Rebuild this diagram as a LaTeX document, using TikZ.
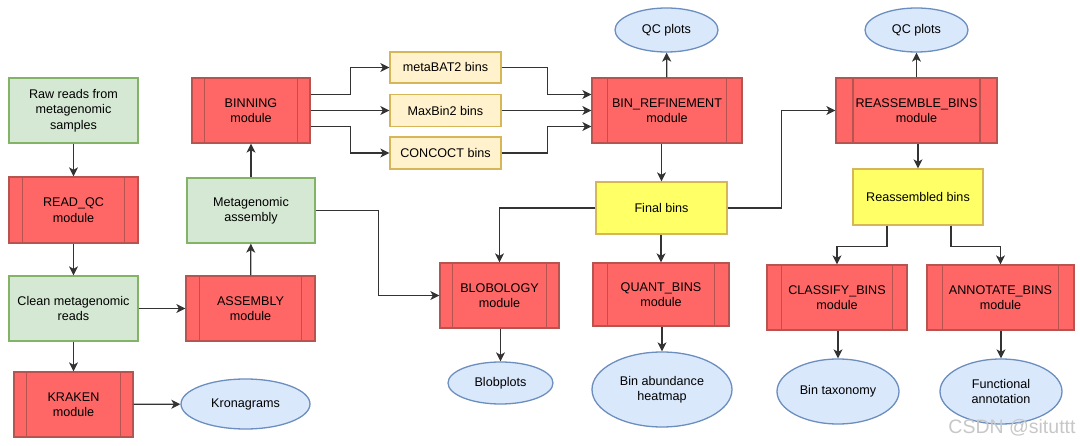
\documentclass[tikz,border=0pt]{standalone}
\usepackage{fontspec}
\setmainfont{Liberation Sans}
\usetikzlibrary{shapes.geometric,arrows.meta,calc}
\definecolor{greenfill}{RGB}{213,232,212}
\definecolor{greenline}{RGB}{130,179,102}
\definecolor{redfill}{RGB}{255,102,102}
\definecolor{redline}{RGB}{184,84,80}
\definecolor{binfill}{RGB}{255,242,204}
\definecolor{binline}{RGB}{214,182,86}
\definecolor{yellowfill}{RGB}{255,255,102}
\definecolor{bluefill}{RGB}{218,232,252}
\definecolor{blueline}{RGB}{108,142,191}
\definecolor{edgecol}{RGB}{51,51,51}
\tikzset{
  box/.style={draw, line width=1.3pt, align=center, inner sep=0pt,
    font=\fontsize{12.6}{15.5}\selectfont},
  data/.style={box, fill=greenfill, draw=greenline},
  binbox/.style={box, fill=binfill, draw=binline},
  result/.style={box, fill=yellowfill, draw=binline},
  plot/.style={box, ellipse, fill=bluefill, draw=blueline},
  module/.style={box, fill=redfill, draw=redline, path picture={
      \draw[redline, line width=1.3pt]
        ($(path picture bounding box.north west)!0.105!(path picture bounding box.north east)$) --
        ($(path picture bounding box.south west)!0.105!(path picture bounding box.south east)$);
      \draw[redline, line width=1.3pt]
        ($(path picture bounding box.north west)!0.895!(path picture bounding box.north east)$) --
        ($(path picture bounding box.south west)!0.895!(path picture bounding box.south east)$);
    }},
  arr/.style={draw=edgecol, line width=1.2pt, -{Stealth[length=9pt,width=9pt,inset=2.5pt]}}
}
\begin{document}
\begin{tikzpicture}[x=1pt, y=-1pt]
  \useasboundingbox (0,0) rectangle (1080,446);
  % reads column
  \node[data, minimum width=129pt, minimum height=65pt] (raw) at (73.5,110.5) {Raw reads from\\metagenomic\\samples};
  \node[module, minimum width=129pt, minimum height=66pt] (readqc) at (73.5,210) {READ\_QC\\module};
  \node[data, minimum width=129pt, minimum height=65pt] (clean) at (73.5,308.5) {Clean metagenomic\\reads};
  \node[module, minimum width=119pt, minimum height=65pt] (kraken) at (73.5,404.5) {KRAKEN\\module};
  \node[plot, minimum width=129pt, minimum height=50pt] (krona) at (245.5,404) {Kronagrams};
  % assembly column
  \node[module, minimum width=129pt, minimum height=65pt] (assembly) at (250.5,308.5) {ASSEMBLY\\module};
  \node[data, minimum width=128pt, minimum height=65pt] (metaasm) at (251,210.5) {Metagenomic\\assembly};
  \node[module, minimum width=118pt, minimum height=65pt] (binning) at (251,110.5) {BINNING\\module};
  % bins
  \node[binbox, minimum width=111pt, minimum height=31pt] (metabat) at (445.5,67.5) {metaBAT2 bins};
  \node[binbox, minimum width=111pt, minimum height=32pt] (maxbin) at (445.5,110.5) {MaxBin2 bins};
  \node[binbox, minimum width=111pt, minimum height=32pt] (concoct) at (445.5,153) {CONCOCT bins};
  % refinement
  \node[module, minimum width=150pt, minimum height=65pt] (binref) at (667,110.5) {BIN\_REFINEMENT\\module};
  \node[plot, minimum width=103pt, minimum height=44pt] (qcone) at (666.5,30) {QC plots};
  \node[result, minimum width=131pt, minimum height=52pt] (final) at (661.5,208) {Final bins};
  \node[module, minimum width=119pt, minimum height=65pt] (blobology) at (499.5,295.5) {BLOBOLOGY\\module};
  \node[module, minimum width=136pt, minimum height=63pt] (quant) at (661,294.5) {QUANT\_BINS\\module};
  \node[plot, minimum width=105pt, minimum height=42pt] (blobplots) at (500.5,383) {Blobplots};
  \node[plot, minimum width=140pt, minimum height=75pt] (abundance) at (662,389.5) {Bin abundance\\heatmap};
  % reassembly
  \node[module, minimum width=161pt, minimum height=65pt] (reasm) at (916.5,110.5) {REASSEMBLE\_BINS\\module};
  \node[plot, minimum width=103pt, minimum height=44pt] (qctwo) at (916.5,30) {QC plots};
  \node[result, minimum width=130pt, minimum height=56pt] (reasmbins) at (918,197) {Reassembled bins};
  \node[module, minimum width=140pt, minimum height=65pt] (classify) at (837,297.5) {CLASSIFY\_BINS\\module};
  \node[module, minimum width=147pt, minimum height=65pt] (annotate) at (1000.5,297.5) {ANNOTATE\_BINS\\module};
  \node[plot, minimum width=122pt, minimum height=65pt] (taxonomy) at (838,391.5) {Bin taxonomy};
  \node[plot, minimum width=122pt, minimum height=65pt] (functional) at (1001,391.5) {Functional\\annotation};
  % watermark
  \node[text=black!22, font=\fontsize{19.5}{20}\selectfont] (mark) at (1012,428) {CSDN @situttt};
  % connectors, left part
  \draw[arr] (raw) -- (readqc);
  \draw[arr] (readqc) -- (clean);
  \draw[arr] (clean) -- (kraken);
  \draw[arr] (kraken) -- (krona);
  \draw[arr] (clean) -- (assembly);
  \draw[arr] (assembly) -- (metaasm);
  \draw[arr] (metaasm) -- (binning);
  % binners
  \draw[arr] ([yshift=16pt]binning.east) -- ++(40,0) |- (metabat.west);
  \draw[arr] (binning.east) -- (maxbin.west);
  \draw[arr] ([yshift=-16pt]binning.east) -- ++(40,0) |- (concoct.west);
  \draw[arr] (metabat.east) -- ++(46,0) |- ([yshift=16pt]binref.west);
  \draw[arr] (maxbin.east) -- (binref.west);
  \draw[arr] (concoct.east) -- ++(46,0) |- ([yshift=-16pt]binref.west);
  % refinement
  \draw[arr] (binref) -- (qcone);
  \draw[arr] (final.north |- binref.south) -- (final.north);
  \draw[arr] (final.west) -| (blobology.north);
  \draw[arr] (metaasm.east) -- ++(63,0) |- (blobology.west);
  \draw[arr] (final.south -| quant.north) -- (quant.north);
  \draw[arr] (blobology.south -| blobplots.north) -- (blobplots.north);
  \draw[arr] (quant.south -| abundance.north) -- (abundance.north);
  % reassembly
  \draw[arr] (final.east) -- ++(54,0) |- (reasm.west);
  \draw[arr] (reasm) -- (qctwo);
  \draw[arr] (reasm.south -| reasmbins.north) -- (reasmbins.north);
  \draw[arr] ([xshift=-31pt]reasmbins.south) -- ++(0,21) -| (classify.north);
  \draw[arr] ([xshift=33pt]reasmbins.south) -- ++(0,21) -| (annotate.north);
  \draw[arr] (classify.south -| taxonomy.north) -- (taxonomy.north);
  \draw[arr] (annotate.south -| functional.north) -- (functional.north);
\end{tikzpicture}
\end{document}
